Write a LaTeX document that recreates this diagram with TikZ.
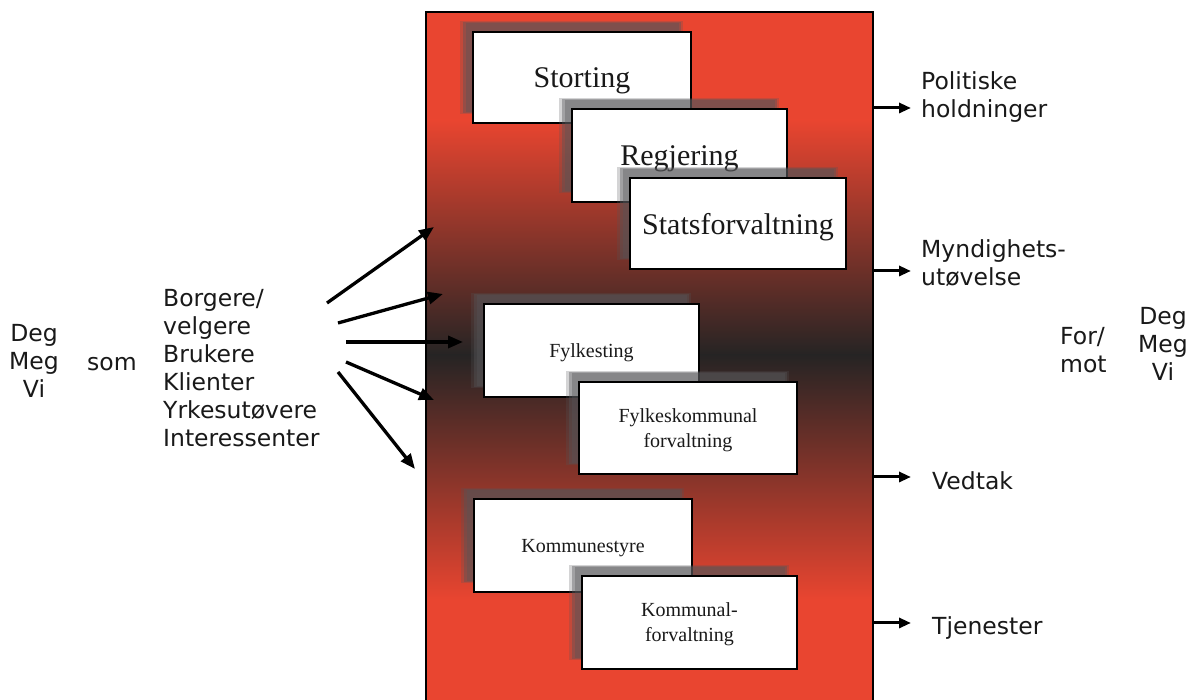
\documentclass[tikz,border=0pt]{standalone}
\usepackage{fontspec}
\setmainfont{Liberation Serif}
\newfontfamily\vfont{DejaVu Sans}
\usetikzlibrary{arrows.meta,shadows}
\definecolor{redA}{RGB}{233,69,48}
\definecolor{darkA}{RGB}{38,36,36}
\definecolor{shad}{RGB}{85,85,88}
\definecolor{txt}{RGB}{25,25,25}
\begin{document}
\begin{tikzpicture}[x=1pt,y=1pt,
  orgbox/.style={draw=black, line width=1.8pt, fill=white, inner sep=0pt, align=center,
    text=txt, text depth=0pt, minimum width=216pt, minimum height=92pt,
    general shadow={fill=shad, opacity=0.25, shadow xshift=-10pt, shadow yshift=10pt, shadow scale=1.025},
    general shadow={fill=shad, opacity=0.4, shadow xshift=-10pt, shadow yshift=10pt},
    general shadow={fill=shad, opacity=0.35, shadow xshift=-10pt, shadow yshift=10pt, shadow scale=0.975}},
  bigtxt/.style={font=\fontsize{30}{34}\selectfont},
  smalltxt/.style={font=\fontsize{20}{25}\selectfont},
  lbl/.style={font=\vfont\fontsize{23.5}{28}\selectfont, text=txt, inner sep=0pt},
  inarrow/.style={line width=3.3pt, -{Triangle[length=15pt,width=12pt]}},
  outarrow/.style={line width=3pt, -{Triangle[length=12pt,width=10pt]}},
  panel/.style={draw=black, line width=2pt, inner sep=0pt, minimum width=447pt, minimum height=693pt}
]
\useasboundingbox (0,0) rectangle (1193,700);
\fill[white] (0,0) rectangle (1193,700);

% background gradient of the panel
\fill[redA] (426,-5) rectangle (873,688);
\shade[top color=redA, bottom color=darkA] (426,345) rectangle (873,580);
\shade[top color=darkA, bottom color=redA] (426,100) rectangle (873,345);
\node[panel] (panel) at (649.5,341.5) {};

% organisation boxes
\node[orgbox, bigtxt, minimum width=218pt, minimum height=91pt] (storting) at (582,622.5) {Storting};
\node[orgbox, bigtxt, minimum width=215pt, minimum height=93pt] (regjering) at (679.5,544.5) {Regjering};
\node[orgbox, bigtxt, minimum width=216pt, minimum height=91pt] (stat) at (738,476.5) {Statsforvaltning};
\node[orgbox, smalltxt, minimum width=215pt, minimum height=93pt] (fylkesting) at (591.5,349.5) {Fylkesting};
\node[orgbox, smalltxt, minimum width=218pt, minimum height=92pt] (fylkesk) at (688,272) {Fylkeskommunal\\forvaltning};
\node[orgbox, smalltxt, minimum width=218pt, minimum height=93pt] (kommunestyre) at (583,154.5) {Kommunestyre};
\node[orgbox, smalltxt, minimum width=215pt, minimum height=93pt] (kommunal) at (689.5,77.5) {Kommunal-\\forvaltning};

% left labels
\node[lbl, align=center] (degL) at (34,339) {Deg\\Meg\\Vi};
\node[lbl] (som) at (112,336) {som};
\node[lbl, align=left, anchor=west] (roles) at (163,332) {Borgere/\\velgere\\Brukere\\Klienter\\Yrkesutøvere\\Interessenter};

% right labels
\node[lbl, align=left, anchor=west] (pol) at (921,603) {Politiske\\holdninger};
\node[lbl, align=left, anchor=west] (mynd) at (921,437) {Myndighets-\\utøvelse};
\node[lbl, anchor=west] (vedtak) at (932,219) {Vedtak};
\node[lbl, anchor=west] (tjen) at (932,72) {Tjenester};
\node[lbl, align=left, anchor=west] (formot) at (1060,350) {For/\\mot};
\node[lbl, align=center] (degR) at (1163,356) {Deg\\Meg\\Vi};

% left arrows
\coordinate (s1) at (327,397); \coordinate (e1) at (434,473);
\coordinate (s2) at (338,377); \coordinate (e2) at (443,406);
\coordinate (s3) at (346,358); \coordinate (e3) at (463,358);
\coordinate (s4) at (346,338); \coordinate (e4) at (434,300);
\coordinate (s5) at (338,328); \coordinate (e5) at (415,231);
\draw[inarrow] (s1) -- (e1);
\draw[inarrow] (s2) -- (e2);
\draw[inarrow] (s3) -- (e3);
\draw[inarrow] (s4) -- (e4);
\draw[inarrow] (s5) -- (e5);

% right arrows
\coordinate (o1) at (911,592);
\coordinate (o2) at (911,429);
\coordinate (o3) at (911,223);
\coordinate (o4) at (911,77);
\draw[outarrow] (panel.east |- o1) -- (o1);
\draw[outarrow] (panel.east |- o2) -- (o2);
\draw[outarrow] (panel.east |- o3) -- (o3);
\draw[outarrow] (panel.east |- o4) -- (o4);
\end{tikzpicture}
\end{document}
